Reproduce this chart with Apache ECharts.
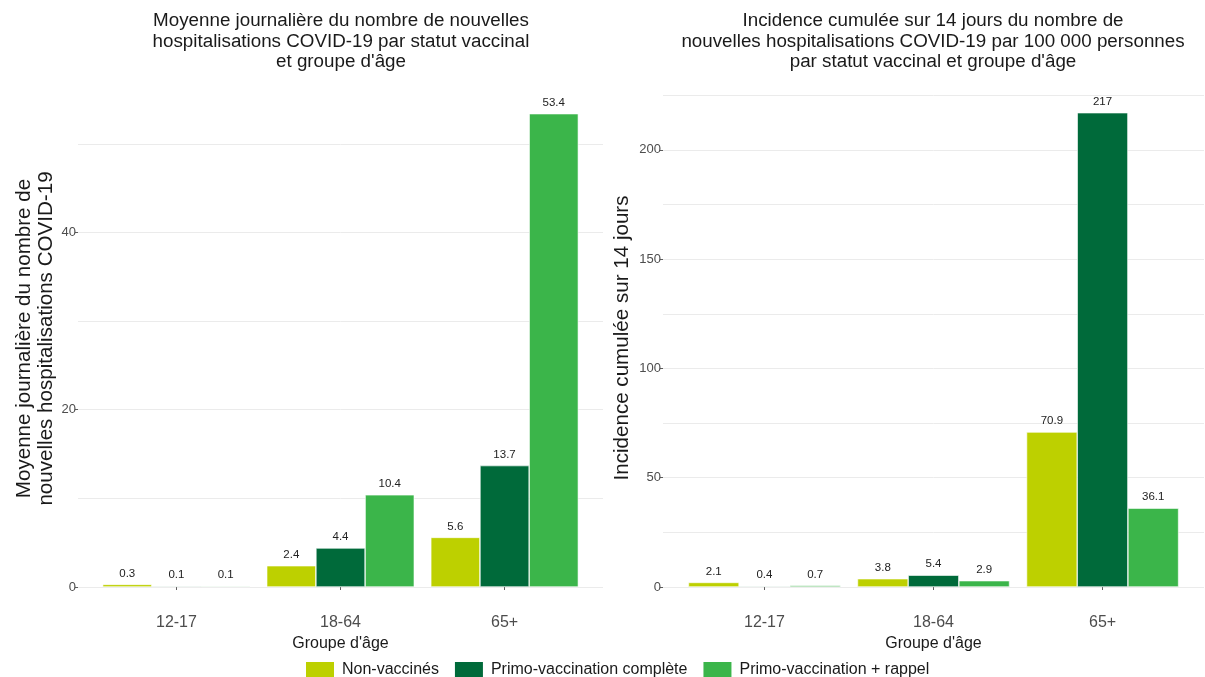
<!DOCTYPE html>
<html>
<head>
<meta charset="utf-8">
<script src="https://cdn.jsdelivr.net/npm/echarts@6/dist/echarts.min.js"></script>
<style>
html,body{margin:0;padding:0;background:#fff;}
#chart{width:1205px;height:677px;}
</style>
</head>
<body>
<div id="chart"></div>
<script>
// ---- Data ----
var ageGroups = ['12-17', '18-64', '65+'];
var seriesNames = ['Non-vaccinés', 'Primo-vaccination complète', 'Primo-vaccination + rappel'];
var leftNonVax = [0.3, 2.4, 5.6];
var leftPrimo = [0.1, 4.4, 13.7];
var leftRappel = [0.1, 10.4, 53.4];
var rightNonVax = [2.1, 3.8, 70.9];
var rightPrimo = [0.4, 5.4, 217];
var rightRappel = [0.7, 2.9, 36.1];
var leftTicks = [0, 20, 40];
var leftGrid = [0, 10, 20, 30, 40, 50];
var rightTicks = [0, 50, 100, 150, 200];
var rightGrid = [0, 25, 50, 75, 100, 125, 150, 175, 200, 225];
var leftTitle = 'Moyenne journalière du nombre de nouvelles\nhospitalisations COVID-19 par statut vaccinal\net groupe d\'âge';
var rightTitle = 'Incidence cumulée sur 14 jours du nombre de\nnouvelles hospitalisations COVID-19 par 100 000 personnes\npar statut vaccinal et groupe d\'âge';
var leftYName = 'Moyenne journalière du nombre de\nnouvelles hospitalisations COVID-19';
var rightYName = 'Incidence cumulée sur 14 jours';
var xName = 'Groupe d\'âge';

var colors = ['#BDD000', '#006A3A', '#3BB54A'];
var FONT = 'Liberation Sans, Arial, sans-serif';

function toPoints(arr) {
  return arr.map(function (v, i) { return [i + 1, v]; });
}

function xAxisDef(gridIndex) {
  return {
    type: 'value', gridIndex: gridIndex, min: 0.4, max: 3.6,
    offset: 24,
    axisLine: { show: false },
    axisTick: { show: true, length: 3, customValues: [1, 2, 3], lineStyle: { color: '#333', width: 0.8 } },
    axisLabel: {
      customValues: [1, 2, 3], margin: 4, fontSize: 16, color: '#4d4d4d', fontFamily: FONT,
      formatter: function (v) { return ageGroups[Math.round(v) - 1] || ''; }
    },
    splitLine: { show: false }, minorSplitLine: { show: false },
    name: xName, nameLocation: 'middle', nameGap: 20,
    nameTextStyle: { fontSize: 16, color: '#1a1a1a', fontFamily: FONT }
  };
}

function yAxisDef(gridIndex, max, interval, ticks, name, nameGap) {
  return {
    type: 'value', gridIndex: gridIndex, position: 'left', min: 0, max: max, interval: interval,
    axisLine: { show: false },
    axisTick: { show: true, length: 3, customValues: ticks, lineStyle: { color: '#333', width: 0.8 } },
    axisLabel: { customValues: ticks, margin: 2, fontSize: 13, color: '#4d4d4d', fontFamily: FONT },
    splitLine: { show: false },
    name: name, nameLocation: 'middle', nameGap: nameGap, nameRotate: 90,
    nameTextStyle: { fontSize: 20.6, lineHeight: 22, color: '#1a1a1a', fontFamily: FONT }
  };
}

// invisible companion axis drawing only the grid lines (major + minor)
function yGridAxisDef(gridIndex, max, interval, gridVals) {
  var vals = gridVals.concat([max]); // top edge value, its line hidden by showMaxLine:false
  return {
    type: 'value', gridIndex: gridIndex, position: 'left', min: 0, max: max, interval: interval,
    axisLine: { show: false },
    axisTick: { show: false, customValues: vals },
    axisLabel: { show: false, customValues: vals },
    splitLine: { show: true, showMaxLine: false, lineStyle: { color: '#ebebeb', width: 1 } }
  };
}

function barSeries(idx, data, axisIdx, width) {
  return {
    name: seriesNames[idx], type: 'bar',
    xAxisIndex: axisIdx, yAxisIndex: axisIdx,
    data: toPoints(data), barWidth: width, barGap: '0%',
    itemStyle: { color: colors[idx], borderColor: '#ffffff', borderWidth: 0.6 },
    label: {
      show: true, position: 'top', distance: 5, fontSize: 11.5, color: '#222', fontFamily: FONT,
      formatter: function (p) { return String(p.value[1]); }
    },
    emphasis: { disabled: true }
  };
}

var chart = echarts.init(document.getElementById('chart'));
chart.setOption({
  animation: false,
  backgroundColor: '#fff',
  textStyle: { fontFamily: FONT },
  graphic: [
    { type: 'text', x: 341, y: 10.5,
      style: { text: leftTitle, align: 'center', verticalAlign: 'top', fontSize: 18.8, lineHeight: 20.6, fill: '#1a1a1a', fontFamily: FONT } },
    { type: 'text', x: 933, y: 10.5,
      style: { text: rightTitle, align: 'center', verticalAlign: 'top', fontSize: 18.8, lineHeight: 20.6, fill: '#1a1a1a', fontFamily: FONT } }
  ],
  legend: {
    top: 660, left: 304, padding: 0, itemWidth: 30, itemHeight: 17, itemGap: 14,
    icon: 'rect', data: seriesNames,
    textStyle: { fontSize: 16, color: '#1a1a1a', fontFamily: FONT, padding: [0, 0, 0, 2] }
  },
  grid: [
    { left: 78, top: 90, width: 525, height: 497, containLabel: false, outerBoundsMode: 'none' },
    { left: 663, top: 89, width: 541, height: 498, containLabel: false, outerBoundsMode: 'none' }
  ],
  xAxis: [xAxisDef(0), xAxisDef(1)],
  yAxis: [
    yAxisDef(0, 56.07, 10, leftTicks, leftYName, 16),
    yAxisDef(1, 227.85, 25, rightTicks, rightYName, 30),
    yGridAxisDef(0, 56.07, 10, leftGrid),
    yGridAxisDef(1, 227.85, 25, rightGrid)
  ],
  series: [
    barSeries(0, leftNonVax, 0, 49.2),
    barSeries(1, leftPrimo, 0, 49.2),
    barSeries(2, leftRappel, 0, 49.2),
    barSeries(0, rightNonVax, 1, 50.7),
    barSeries(1, rightPrimo, 1, 50.7),
    barSeries(2, rightRappel, 1, 50.7)
  ]
});
</script>
</body>
</html>
